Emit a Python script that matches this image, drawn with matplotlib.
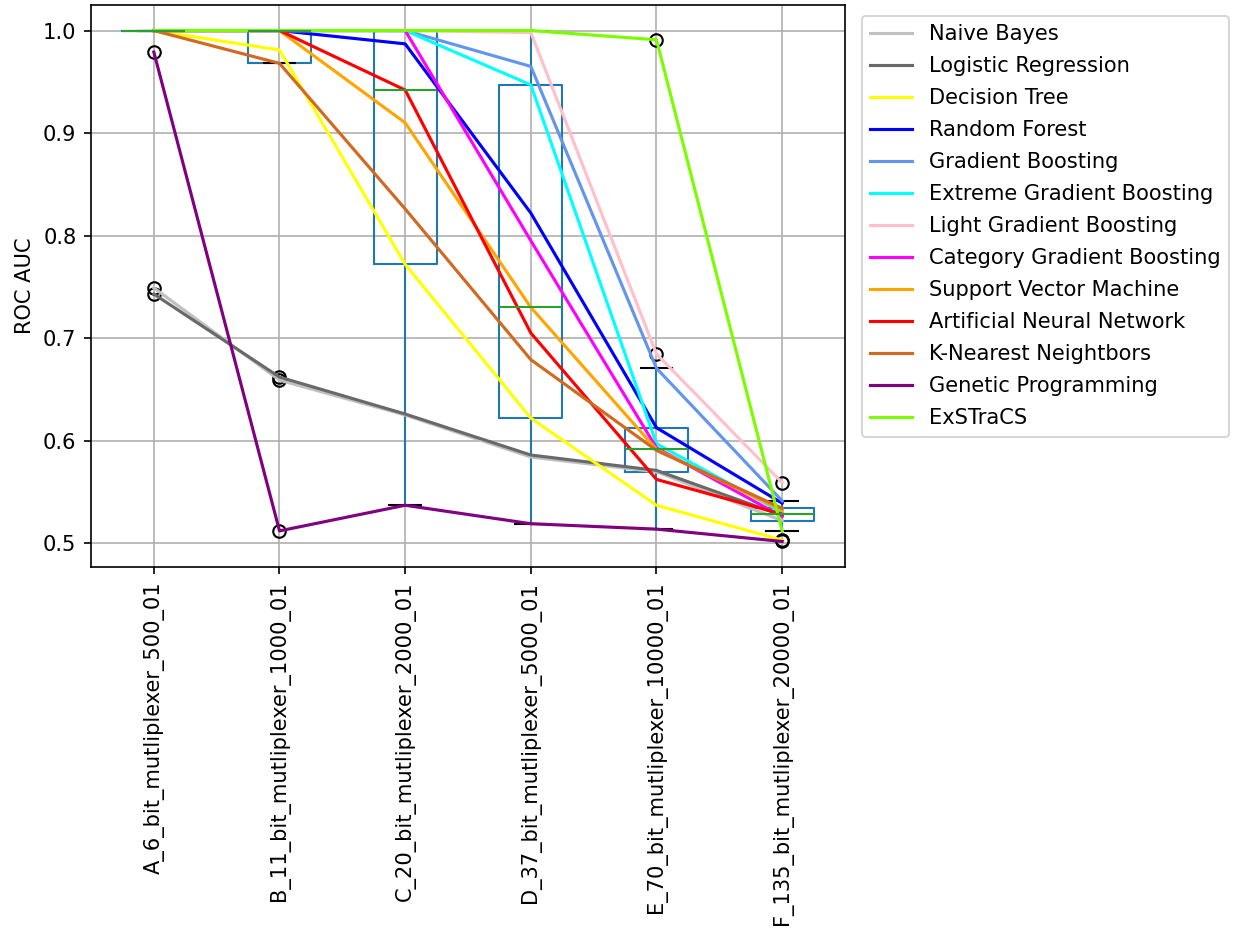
import matplotlib
matplotlib.use("Agg")
import matplotlib.pyplot as plt
import pandas as pd

datasets = ["A_6_bit_mutliplexer_500_01", "B_11_bit_mutliplexer_1000_01",
            "C_20_bit_mutliplexer_2000_01", "D_37_bit_mutliplexer_5000_01",
            "E_70_bit_mutliplexer_10000_01", "F_135_bit_mutliplexer_20000_01"]

algorithms = ["Naive Bayes", "Logistic Regression", "Decision Tree", "Random Forest",
              "Gradient Boosting", "Extreme Gradient Boosting", "Light Gradient Boosting",
              "Category Gradient Boosting", "Support Vector Machine",
              "Artificial Neural Network", "K-Nearest Neightbors",
              "Genetic Programming", "ExSTraCS"]

colors = ["silver", "dimgray", "yellow", "blue", "cornflowerblue", "cyan", "pink",
          "magenta", "orange", "red", "chocolate", "purple", "lawngreen"]

naive_bayes = [0.749, 0.659, 0.625, 0.584, 0.5696, 0.522]
logistic_regression = [0.743, 0.662, 0.626, 0.586, 0.571, 0.527]
decision_tree = [1.0, 0.981, 0.772, 0.622, 0.537, 0.503]
random_forest = [1.0, 1.0, 0.987, 0.822, 0.6126, 0.539]
gradient_boosting = [1.0, 1.0, 1.0, 0.965, 0.6706, 0.5413]
extreme_gradient_boosting = [1.0, 1.0, 1.0, 0.947, 0.597, 0.530]
light_gradient_boosting = [1.0, 1.0, 1.0, 0.998, 0.6846, 0.559]
category_gradient_boosting = [1.0, 1.0, 1.0, 0.795, 0.593, 0.526]
support_vector_machine = [1.0, 1.0, 0.910, 0.730, 0.5915, 0.532]
artificial_neural_network = [1.0, 1.0, 0.942, 0.705, 0.5622, 0.5283]
k_nearest_neighbors = [1.0, 0.968, 0.826, 0.679, 0.5905, 0.534]
genetic_programming = [0.979, 0.512, 0.537, 0.519, 0.5137, 0.5017]
exstracs = [1.0, 1.0, 1.0, 1.0, 0.991, 0.512]

values = [naive_bayes, logistic_regression, decision_tree, random_forest,
          gradient_boosting, extreme_gradient_boosting, light_gradient_boosting,
          category_gradient_boosting, support_vector_machine,
          artificial_neural_network, k_nearest_neighbors, genetic_programming, exstracs]

df = pd.DataFrame(values, index=algorithms, columns=datasets)

plt.rcParams["font.size"] = 10.1

W, H, DPI = 1235, 934, 150
fig = plt.figure(figsize=(W / DPI, H / DPI), dpi=DPI)
ax = fig.add_axes([91 / W, 1 - 567 / H, (845 - 91) / W, (567 - 5) / H])

df.boxplot(ax=ax, rot=90, grid=True)

positions = list(range(1, len(datasets) + 1))
for name, col in zip(algorithms, colors):
    ax.plot(positions, df.loc[name].values, color=col, label=name)

ax.set_ylabel("ROC AUC")
ax.legend(loc="upper left", bbox_to_anchor=(862 / W, 1 - 16 / H),
          bbox_transform=fig.transFigure, borderaxespad=0, labelspacing=0.57)

fig.savefig("out.png", dpi=DPI)
